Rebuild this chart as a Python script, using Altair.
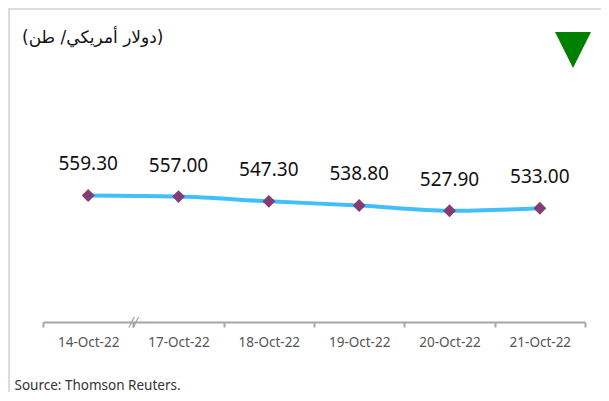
import altair as alt
import pandas as pd

dates = ["14-Oct-22", "17-Oct-22", "18-Oct-22", "19-Oct-22", "20-Oct-22", "21-Oct-22"]
prices = [559.30, 557.00, 547.30, 538.80, 527.90, 533.00]
labels = ["559.30", "557.00", "547.30", "538.80", "527.90", "533.00"]

title_text = "(دولار أمريكي/ طن)"
source_text = "Source: Thomson Reuters."

df = pd.DataFrame({"date": dates, "price": prices, "label": labels})

x = alt.X(
    "date:N",
    sort=dates,
    scale=alt.Scale(paddingInner=0, paddingOuter=0),
    axis=alt.Axis(
        title=source_text,
        titleAnchor="start",
        titleAlign="left",
        titleBaseline="middle",
        titleX=-29,
        titleY=63,
        titleFont="Noto Sans",
        titleFontSize=13.5,
        titleFontWeight="normal",
        titleColor="#333333",
        labelAngle=0,
        labelFont="Noto Sans",
        labelFontSize=13.5,
        labelColor="#555555",
        labelPadding=8,
        domainColor="#A6A6A6",
        domainWidth=2,
        tickColor="#A6A6A6",
        tickWidth=2,
        tickSize=5,
        tickBand="extent",
    ),
)
y = alt.Y("price:Q", scale=alt.Scale(domain=[300, 800]), axis=None)

base = alt.Chart(df)
first = base.transform_filter(alt.datum.date == dates[0])

line = base.mark_line(color="#41BFFA", strokeWidth=4, interpolate="monotone").encode(x=x, y=y)
pts = base.mark_point(shape="diamond", filled=True, size=165, color="#843C74", opacity=1).encode(x=x, y=y)
txt = base.mark_text(dy=-31, fontSize=19, font="Noto Sans", color="#111111").encode(
    x=x, y=y, text="label:N"
)

brk = base.transform_filter(alt.datum.date == dates[1]).mark_text(
    xOffset=-45, fontSize=13, fontStyle="italic", color="#999999", font="DejaVu Sans", text="//"
).encode(x=x, y=alt.value(244))

tri = first.mark_point(
    shape="M-1,-1L1,-1L0,1Z", filled=True, size=1296, color="#008000", opacity=1
).encode(x=alt.value(530), y=alt.value(-28))

ttl = first.mark_text(
    text=title_text, align="left", baseline="middle", fontSize=17, font="DejaVu Sans", color="#111111"
).encode(x=alt.value(-21), y=alt.value(-40))

top_border = first.mark_rule(color="#DDDDDD", strokeWidth=2).encode(
    x=alt.value(-35), x2=alt.value(560), y=alt.value(-69)
)
left_border = first.mark_rule(color="#DDDDDD", strokeWidth=2).encode(
    x=alt.value(-34), y=alt.value(-69), y2=alt.value(320)
)

chart = (
    alt.layer(top_border, left_border, line, brk, pts, txt, tri, ttl)
    .properties(
        width=542,
        height=244,
        padding={"left": 35, "top": 70, "right": 16, "bottom": 70},
        autosize=alt.AutoSizeParams(type="none"),
        background="white",
    )
    .configure_view(stroke=None)
)

chart.save("out.html", embed_options={"renderer": "svg", "actions": False})
